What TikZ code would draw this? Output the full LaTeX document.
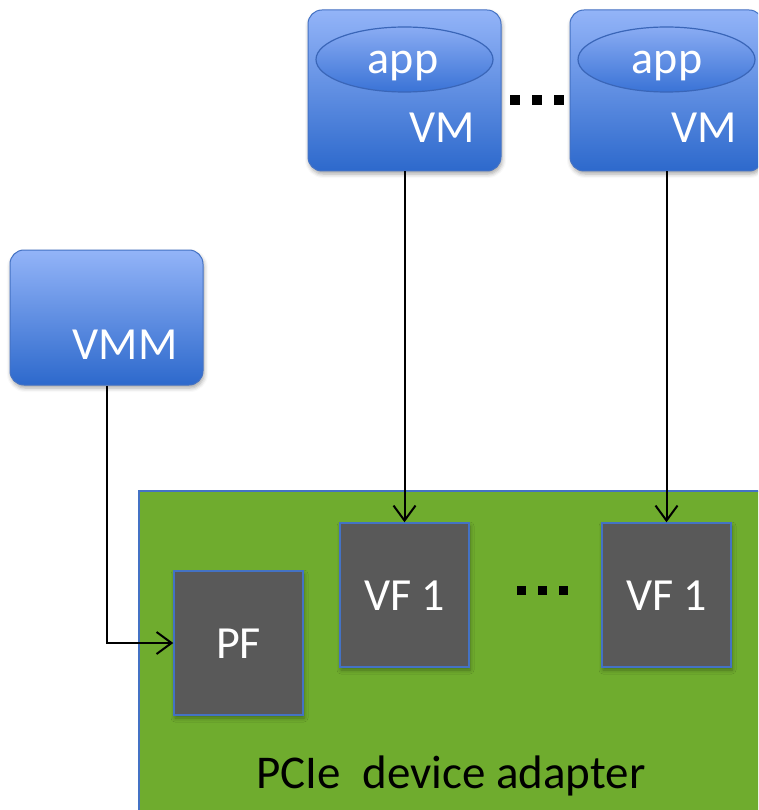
\documentclass[tikz,border=0pt]{standalone}
\usepackage{fontspec}
\setmainfont{Carlito}
\usetikzlibrary{arrows.meta,shapes.geometric,shadows.blur}
\definecolor{vmtop}{HTML}{93B4F8}
\definecolor{vmbot}{HTML}{2D69CC}
\definecolor{apptop}{HTML}{8AACF3}
\definecolor{appbot}{HTML}{3A73D6}
\definecolor{edgeblue}{HTML}{4472C4}
\definecolor{appedge}{HTML}{3A66B8}
\definecolor{boardgreen}{HTML}{6FAC2E}
\definecolor{fngray}{HTML}{595959}

\begin{document}
\begin{tikzpicture}[x=1pt,y=-1pt,
  softshadow/.style={blur shadow={shadow xshift=1pt, shadow yshift=-3pt,
      shadow blur radius=4pt, shadow opacity=35}},
  vmbox/.style={rectangle, rounded corners=14pt, minimum width=193pt,
      minimum height=161pt, top color=vmtop, bottom color=vmbot,
      draw=edgeblue, line width=1pt, inner sep=0pt, softshadow},
  appshape/.style={ellipse, minimum width=177pt, minimum height=65pt,
      top color=apptop, bottom color=appbot, draw=appedge,
      line width=1.2pt, inner sep=0pt},
  fnbox/.style={rectangle, minimum width=129pt, minimum height=144pt,
      fill=fngray, draw=edgeblue, line width=1.5pt, inner sep=0pt, softshadow},
  wtext/.style={text=white, font=\fontsize{46}{50}\selectfont,
      anchor=base, inner sep=0pt},
  btext/.style={text=black, font=\fontsize{47}{52}\selectfont,
      anchor=base, inner sep=0pt},
  dotsq/.style={rectangle, fill=black, inner sep=0pt},
  conn/.style={line width=2pt,
      -{Straight Barb[length=15pt,width=22pt,line width=2pt]}}
]
\useasboundingbox (0,0) rectangle (758,810);
\clip (0,0) rectangle (758,810);

% adapter board
\node[rectangle, fill=boardgreen, draw=edgeblue, line width=1.5pt,
      minimum width=640pt, minimum height=340pt, anchor=north west,
      inner sep=0pt] (board) at (138,490) {};
\node[btext] (boardlabel) at (451,788) {PCIe\ \ device adapter};

% functions on the adapter
\node[fnbox] (pf)  at (238.5,643) {};
\node[fnbox] (vf1) at (404.5,595) {};
\node[fnbox] (vf2) at (666.5,595) {};
\node[wtext] (pflabel)  at (238.5,658) {PF};
\node[wtext] (vf1label) at (404.5,610) {VF 1};
\node[wtext] (vf2label) at (666.5,610) {VF 1};

\node[dotsq, minimum size=9pt] (bd1) at (521,590.5) {};
\node[dotsq, minimum size=9pt] (bd2) at (542,590.5) {};
\node[dotsq, minimum size=9pt] (bd3) at (563.5,590.5) {};

% hypervisor
\node[vmbox, minimum height=135pt] (vmm) at (106.5,317.5) {};
\node[wtext] (vmmlabel) at (125,359) {VMM};

% guest machines
\node[vmbox] (vm1) at (404.5,90.5) {};
\node[vmbox] (vm2) at (666.5,90.5) {};
\node[appshape] (app1) at (404.5,59.5) {};
\node[appshape] (app2) at (666.5,59.5) {};
\node[wtext] (app1label) at (403,74) {app};
\node[wtext] (app2label) at (667,74) {app};
\node[wtext] (vm1label) at (442,143) {VM};
\node[wtext] (vm2label) at (704,143) {VM};

\node[dotsq, minimum size=10pt] (td1) at (515,100) {};
\node[dotsq, minimum size=10pt] (td2) at (537,100) {};
\node[dotsq, minimum size=10pt] (td3) at (558.5,100) {};

% connections
\draw[conn] (vm1.south) -- (vf1.north);
\draw[conn] (vm2.south) -- (vf2.north);
\draw[conn] (vmm.south) |- (pf.west);
\end{tikzpicture}
\end{document}
